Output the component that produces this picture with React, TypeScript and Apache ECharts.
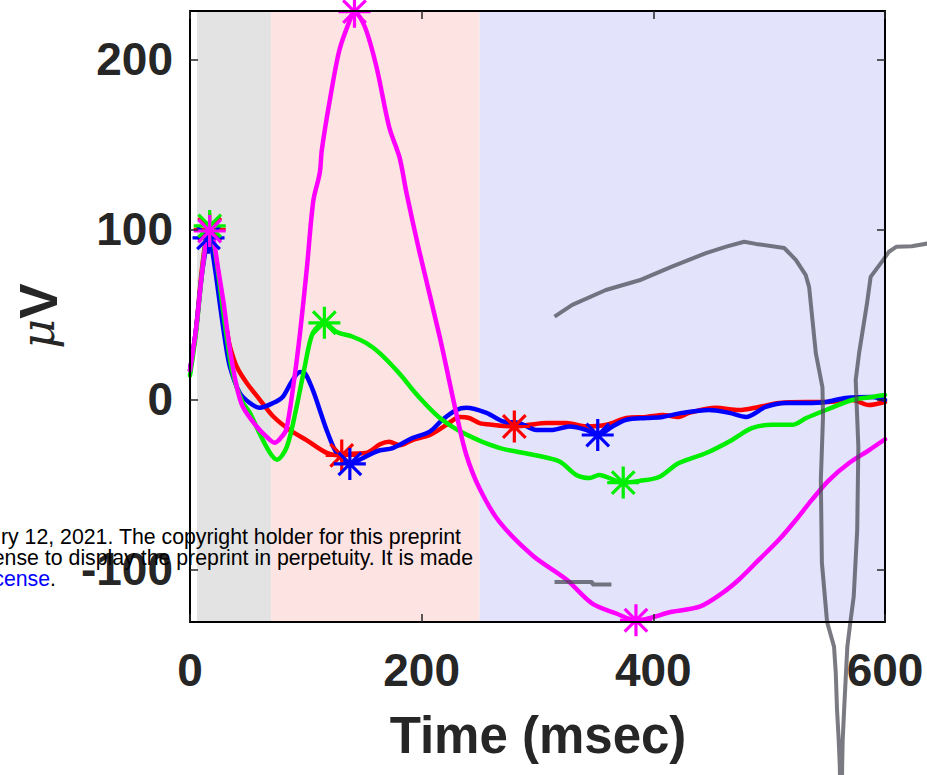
import React, { useEffect, useRef } from "react";
import * as echarts from "echarts";

// Epoch time (msec) and amplitude (µV) of the four averaged responses
const redTrace: number[][] = [
  [0, 17], [5, 40], [10, 75], [14, 95], [17, 100], [20, 93], [24, 75], [28, 55], [32, 40], [34.5, 31],
  [40.5, 19], [49, 9.6], [60, 0], [71.7, -10], [86, -18], [100.6, -24], [118, -31.5], [131, -33],
  [140, -32], [152, -31.6], [164, -26.5], [172, -25], [181, -27], [192, -24], [207, -21], [221.5, -15],
  [233, -10.4], [241, -11], [250, -14], [261, -15], [280, -16], [293, -15], [307.5, -14], [325, -14],
  [342, -16], [359.5, -15], [376.7, -11], [394, -10.4], [408, -9.2], [422, -10.4], [431, -8], [454, -5],
  [474, -6.3], [491, -4.5], [508.6, -2.2], [532, -1.6], [549, -1.6], [571.6, -0.4], [586, -3.4], [600, -1.6],
];
const blueTrace: number[][] = [
  [0, 17], [5, 40], [10, 72], [14, 90], [16, 95], [18, 92], [22, 75], [26, 55], [30, 36], [34.5, 19],
  [43, 3.7], [51.7, -2.2], [60, -5], [71.7, -2.2], [80, 1.4], [87.6, 10.2], [95, 16], [99, 15.5],
  [106, 5.5], [112, -6.3], [119, -20], [126.7, -31.6], [138, -38], [148, -35], [158, -31.6], [164, -30],
  [175, -28.7], [192, -22.8], [207, -19], [218, -12], [230, -6.3], [238.5, -5], [256, -8], [270, -13],
  [284.5, -14], [299, -18], [313, -18], [327.6, -16], [342, -18], [352, -21], [364.7, -16], [376.7, -12],
  [394, -11], [408, -10.4], [425, -8], [448, -6.3], [465.5, -8], [480, -10.4], [497, -4.5], [514.6, -2.2],
  [532, -2.2], [549, -1.6], [566, 0.8], [589, 1.4], [600, -0.4],
];
const greenTrace: number[][] = [
  [0, 14], [5, 38], [10, 72], [14, 95], [17, 102], [20, 94], [24, 76], [28, 55], [32, 35], [36, 18],
  [40, 8], [45.7, -2], [51.7, -8], [60, -20], [69, -31.5], [75, -35.5], [83.6, -28], [92, -4.5], [99, 19],
  [106, 39], [116, 45], [126.7, 39.6], [140.5, 36.8], [152.3, 33], [164, 27], [181, 15], [195.5, 3],
  [215.5, -10.8], [238.5, -20.7], [267, -28.6], [296, -32.6], [319, -36.6], [333.6, -44.5], [345, -46.3],
  [353, -44.5], [374, -49], [388, -48], [405, -45.7], [422, -37.5], [445.7, -31.6], [468, -23.9],
  [485, -17], [502.6, -15], [520, -15], [532, -11], [549, -6.3], [571.6, -0.4], [589, 1.4], [600, 2.5],
];
const magentaTrace: number[][] = [
  [0, 17], [5, 40], [10, 72], [14, 93], [17, 99], [20, 95], [24, 78], [28.7, 58], [34.5, 29], [40.5, 7],
  [45.7, -4.5], [57.5, -16], [66, -22], [73, -25.5], [78, -23], [83, -18], [89, 7], [95, 39], [101, 78],
  [106.5, 117], [112, 133], [113.8, 146.6], [120.7, 176], [129, 205.5], [138, 223], [142, 228], [151, 219],
  [161, 195.5], [172, 160], [181, 142], [187, 121], [198, 87], [215.5, 37], [230, -8.6], [238.5, -32.6],
  [250, -52.5], [267, -72], [296, -92], [325, -106], [347, -120], [368, -126], [385, -130], [416, -125],
  [440, -122], [459.5, -114], [474, -106], [491, -94.5], [508.6, -82.5], [523, -71], [537, -59],
  [551.7, -47.5], [569, -37.5], [586, -30], [600, -23.5],
];

// Peak / trough markers
const redPeaks: number[][] = [[17, 100], [131, -33], [280, -16]];
const bluePeaks: number[][] = [[16, 95], [138, -38], [352, -21]];
const greenPeaks: number[][] = [[17, 102], [116, 45], [374, -49]];
const magentaPeaks: number[][] = [[17, 99], [142, 228], [385, -130]];

// Grey overlay trace (runs past the axes box)
const greyTrace: number[][] = [
  [314.7, 48.6], [330, 55.5], [359, 64.3], [388, 70], [416, 78], [445.4, 86], [463, 89.8], [478.4, 92.7],
  [488.5, 91.4], [513, 89], [523, 82], [531.6, 73], [534.5, 66], [540.3, 27], [546, 7], [546.5, -10],
  [544.6, -47.5], [545.5, -96], [550, -131], [556, -145.5], [557.5, -161], [558.6, -182.8], [560, -200],
  [561, -216], [561.6, -250], [562.6, -250], [563, -216], [563.5, -200], [564.7, -182.8], [566, -165],
  [567.5, -145.5], [570, -131.6], [573, -116], [576, -77], [577, -28], [574.7, 11.4], [577.6, 27],
  [584.5, 56.6], [587.6, 72], [598.5, 82], [603.4, 86.8], [610, 89.8], [623, 90], [640, 92],
];
const greySegment: number[][] = [[314.7, -107.5], [347.4, -107.5], [347.4, -109], [363.8, -109]];

// Analysis windows (msec)
const windowStarts = [6, 70, 250];
const windowEnds = [70, 250, 600];
const windowColors = ["#e3e3e3", "#fde3e1", "#e3e3fb"];

const yTicks = [-100, 0, 100, 200];
const xMin = 0;
const xMax = 600;
const xStep = 200;
const yMin = -131;
const yMax = 228.4;
// wider extent used by the overlay trace's coordinate system
const xMaxWide = 700;
const yMinWide = -300;

const GRID_LEFT = 190;
const GRID_TOP = 11;
const GRID_W = 695;
const GRID_H = 611;

const FONT = "'Liberation Sans', Arial, Helvetica, sans-serif";
const INK = "#262626";

function asteriskSymbol(r = 10, h = 1): string {
  const parts = [0, 45, 90, 135].map((deg) => {
    const a = (deg * Math.PI) / 180;
    const c = Math.cos(a);
    const s = Math.sin(a);
    const pts = [[-r, -h], [r, -h], [r, h], [-r, h]].map(([x, y]) => [x * c - y * s, x * s + y * c]);
    return "M" + pts.map((p) => p[0].toFixed(3) + " " + p[1].toFixed(3)).join(" L") + " Z";
  });
  return "path://" + parts.join(" ");
}

export default function App() {
  const ref = useRef<HTMLDivElement>(null);

  useEffect(() => {
    if (!ref.current) return;
    const chart = echarts.init(ref.current, undefined, { renderer: "svg" });
    const star = asteriskSymbol();

    const lineSeries = (name: string, data: number[][], color: string) => ({
      name,
      type: "line",
      data,
      showSymbol: false,
      symbol: "none",
      smooth: 0.3,
      lineStyle: { color, width: 4.5, join: "round", cap: "round" },
      silent: true,
      z: 3,
    });
    const markerSeries = (name: string, data: number[][], color: string) => ({
      name: name + " peaks",
      type: "scatter",
      data,
      symbol: star,
      symbolSize: 32,
      itemStyle: { color, opacity: 1 },
      silent: true,
      z: 4,
    });

    const axisCommon = {
      axisLine: { show: true, onZero: false, lineStyle: { color: "#000", width: 2 } },
      axisTick: { show: true, inside: true, length: 8, lineStyle: { color: INK, width: 1.5 } },
      splitLine: { show: false },
      z: 10,
    };

    const option: any = {
      animation: false,
      backgroundColor: "#ffffff",
      grid: [
        { left: GRID_LEFT, top: GRID_TOP, width: GRID_W, height: GRID_H, containLabel: false, outerBoundsMode: "none" },
        {
          left: GRID_LEFT,
          top: GRID_TOP,
          width: (GRID_W * (xMaxWide - xMin)) / (xMax - xMin),
          height: (GRID_H * (yMax - yMinWide)) / (yMax - yMin),
          containLabel: false,
          outerBoundsMode: "none",
        },
      ],
      xAxis: [
        {
          type: "value",
          gridIndex: 0,
          position: "bottom",
          min: xMin,
          max: xMax,
          interval: xStep,
          ...axisCommon,
          axisLabel: {
            show: true,
            margin: 25,
            color: INK,
            fontFamily: FONT,
            fontWeight: "bold",
            fontSize: 46,
            showMinLabel: true,
            showMaxLabel: true,
          },
        },
        {
          type: "value",
          gridIndex: 0,
          position: "top",
          min: xMin,
          max: xMax,
          interval: xStep,
          ...axisCommon,
          axisLabel: { show: false },
        },
        { type: "value", gridIndex: 1, min: xMin, max: xMaxWide, show: false },
      ],
      yAxis: [
        {
          type: "value",
          gridIndex: 0,
          position: "left",
          min: yMin,
          max: yMax,
          ...axisCommon,
          axisTick: { ...axisCommon.axisTick, customValues: yTicks },
          axisLabel: {
            show: true,
            customValues: yTicks,
            margin: 17,
            color: INK,
            fontFamily: FONT,
            fontWeight: "bold",
            fontSize: 46,
          },
        },
        {
          type: "value",
          gridIndex: 0,
          position: "right",
          min: yMin,
          max: yMax,
          ...axisCommon,
          axisTick: { ...axisCommon.axisTick, customValues: yTicks },
          axisLabel: { show: false },
        },
        { type: "value", gridIndex: 1, min: yMinWide, max: yMax, show: false },
      ],
      series: [
        {
          name: "windows",
          type: "custom",
          silent: true,
          z: 1,
          data: windowStarts.map((s, i) => ({ value: [s, windowEnds[i]], itemStyle: { color: windowColors[i] } })),
          renderItem: (params: any, api: any) => {
            const a = api.coord([api.value(0), 0]);
            const b = api.coord([api.value(1), 0]);
            const cs = params.coordSys;
            return {
              type: "rect",
              shape: { x: a[0], y: cs.y, width: b[0] - a[0], height: cs.height },
              style: { fill: api.visual("color") },
            };
          },
        },
        lineSeries("red", redTrace, "#ff0000"),
        lineSeries("blue", blueTrace, "#0000ff"),
        lineSeries("green", greenTrace, "#00ee00"),
        lineSeries("magenta", magentaTrace, "#ff00ff"),
        markerSeries("red", redPeaks, "#ff0000"),
        markerSeries("blue", bluePeaks, "#0000ff"),
        markerSeries("green", greenPeaks, "#00ee00"),
        markerSeries("magenta", magentaPeaks, "#ff00ff"),
        {
          name: "grey",
          type: "line",
          xAxisIndex: 2,
          yAxisIndex: 2,
          data: greyTrace,
          showSymbol: false,
          symbol: "none",
          clip: false,
          silent: true,
          z: 5,
          lineStyle: { color: "rgba(70,70,82,0.72)", width: 4, join: "round" },
        },
        {
          name: "grey segment",
          type: "line",
          xAxisIndex: 2,
          yAxisIndex: 2,
          data: greySegment,
          showSymbol: false,
          symbol: "none",
          clip: false,
          silent: true,
          z: 5,
          lineStyle: { color: "rgba(70,70,82,0.72)", width: 4 },
        },
      ],
      graphic: [
        {
          type: "text",
          x: 538,
          y: 735,
          z: 20,
          style: {
            text: "Time (msec)",
            fontFamily: FONT,
            fontWeight: "bold",
            fontSize: 51,
            fill: INK,
            align: "center",
            verticalAlign: "middle",
          },
        },
        {
          type: "text",
          x: 38,
          y: 316,
          rotation: Math.PI / 2,
          z: 20,
          style: {
            text: "{mu|μ}{v|V}",
            align: "center",
            verticalAlign: "middle",
            rich: {
              mu: { fontFamily: "'DejaVu Serif', serif", fontStyle: "italic", fontSize: 46, fill: INK },
              v: { fontFamily: FONT, fontWeight: "bold", fontSize: 53, fill: INK },
            },
          },
        },
        {
          type: "text",
          x: 461,
          y: 537,
          z: 30,
          style: {
            text: "ry 12, 2021. The copyright holder for this preprint",
            fontFamily: FONT,
            fontSize: 21.3,
            fill: "#000",
            align: "right",
            verticalAlign: "middle",
          },
        },
        {
          type: "text",
          x: 473,
          y: 557.5,
          z: 30,
          style: {
            text: "ense to display the preprint in perpetuity. It is made",
            fontFamily: FONT,
            fontSize: 21.3,
            fill: "#000",
            align: "right",
            verticalAlign: "middle",
          },
        },
        {
          type: "text",
          x: 56,
          y: 578.5,
          z: 30,
          style: {
            text: "{b|cense}{k|.}",
            align: "right",
            verticalAlign: "middle",
            rich: {
              b: { fontFamily: FONT, fontSize: 21.3, fill: "#0000ff" },
              k: { fontFamily: FONT, fontSize: 21.3, fill: "#000" },
            },
          },
        },
      ],
    };

    chart.setOption(option);
    return () => chart.dispose();
  }, []);

  return (
    <div
      ref={ref}
      style={{ position: "absolute", left: 0, top: 0, width: 927, height: 775, background: "#fff" }}
    />
  );
}
